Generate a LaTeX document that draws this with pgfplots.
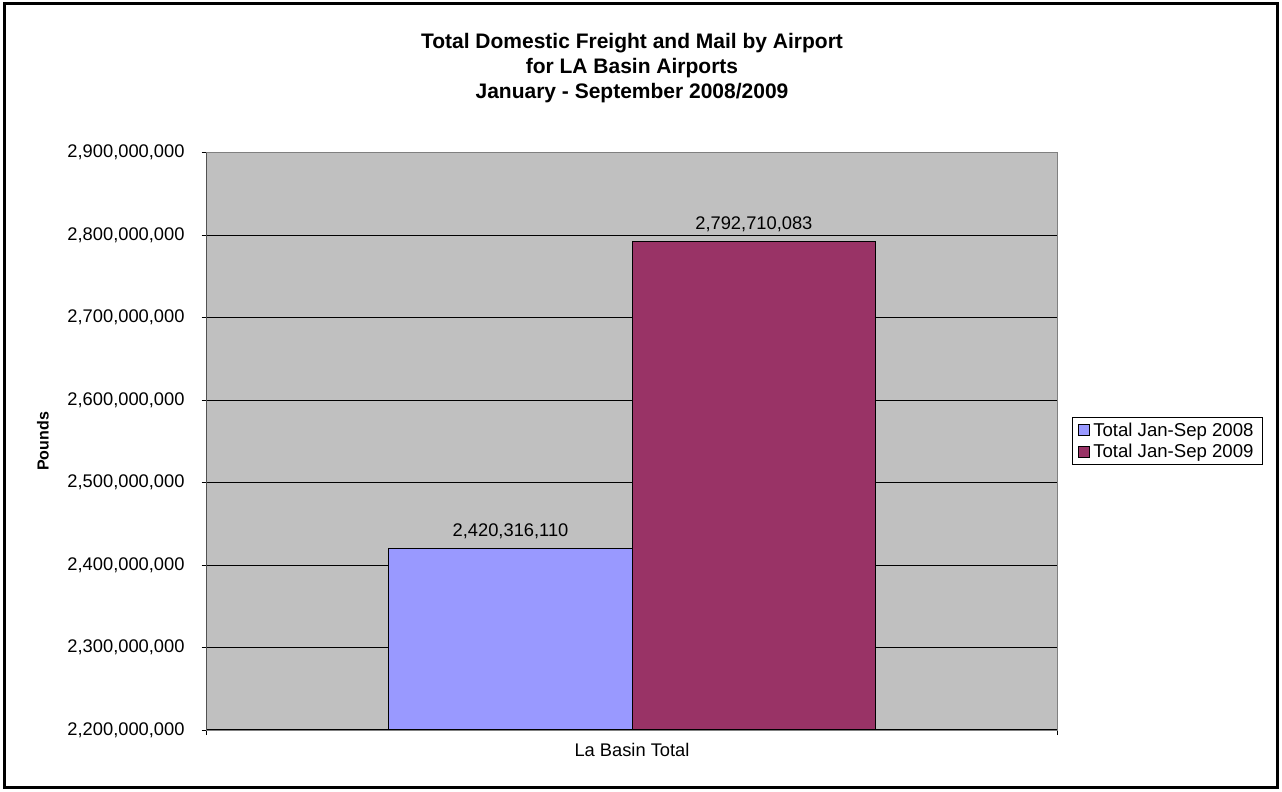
\documentclass[border=0pt]{standalone}
\usepackage{pgfplots}
\pgfplotsset{compat=1.18}
\usepackage{fontspec}
\setmainfont{Liberation Sans}
\definecolor{plotbg}{HTML}{C0C0C0}
\definecolor{bar08}{HTML}{9999FF}
\definecolor{bar09}{HTML}{993366}
\definecolor{bordergray}{HTML}{808080}
\newcommand{\tickfont}{\fontsize{18.3bp}{21bp}\selectfont}
\newcommand{\titlefont}{\fontsize{21bp}{25bp}\selectfont\bfseries}
\begin{document}
\begin{tikzpicture}
\path[use as bounding box] (0,0) rectangle (1282bp,792bp);
\begin{axis}[
  at={(206.7bp,62bp)}, anchor=south west,
  scale only axis, width=850.6bp, height=577.3bp,
  xmin=0, xmax=1, ymin=2200000000, ymax=2900000000,
  scaled y ticks=false,
  axis background/.style={fill=plotbg},
  axis line style={draw=bordergray, line width=0.9bp},
  ytick={2200000000,2300000000,2400000000,2500000000,2600000000,2700000000,2800000000,2900000000},
  yticklabels={{2,200,000,000},{2,300,000,000},{2,400,000,000},{2,500,000,000},{2,600,000,000},{2,700,000,000},{2,800,000,000},{2,900,000,000}},
  ymajorgrids, major grid style={draw=black, line width=0.9bp},
  xtick={0,1}, xticklabels={},
  extra x ticks={0.5}, extra x tick labels={La Basin Total},
  extra x tick style={major tick length=0pt, grid=none},
  tick align=outside, major tick length=5bp,
  tick style={draw=black, line width=0.9bp},
  ytick pos=left, xtick pos=bottom,
  ticklabel style={font=\tickfont},
  yticklabel style={anchor=east, inner sep=0pt, xshift=-17bp},
  xticklabel style={anchor=north, inner sep=0pt, yshift=-13bp},
  ylabel={Pounds},
  ylabel style={at={(axis description cs:-0.1925,0.5)}, anchor=center, rotate=0, font=\fontsize{16bp}{19bp}\selectfont\bfseries},
  ybar, bar width=243.3bp, bar shift=0pt,
  point meta=explicit symbolic,
  nodes near coords,
  nodes near coords style={font=\tickfont, anchor=south, inner sep=0pt, yshift=9bp, text=black},
  legend style={at={(axis description cs:1.0173,0.5006)}, anchor=west, draw=black, line width=0.9bp, fill=white,
     font=\fontsize{18.6bp}{21bp}\selectfont, inner xsep=5.5bp, inner ysep=1.5bp, row sep=0bp,
     nodes={inner xsep=3.5bp, inner ysep=3.4bp}},
  legend cell align=left,
  legend image code/.code={\draw[#1, draw=black, line width=0.8bp] (0bp,-5.5bp) rectangle (11bp,5.5bp);},
]
\addplot[fill=bar08, draw=black, line width=0.9bp] coordinates {(0.3572,2420316110) [2,420,316,110]};
\addlegendentry{Total Jan-Sep 2008}
\addplot[fill=bar09, draw=black, line width=0.9bp] coordinates {(0.6433,2792710083) [2,792,710,083]};
\addlegendentry{Total Jan-Sep 2009}
\draw[black, line width=1bp] (rel axis cs:0,1) -- (rel axis cs:0,0) -- (rel axis cs:1,0);
\end{axis}
\draw[black, line width=2.5bp] (4.5bp,4.5bp) rectangle (1277.5bp,788.5bp);
\node[font=\titlefont, anchor=base] at (632bp,743bp) {Total Domestic Freight and Mail by Airport};
\node[font=\titlefont, anchor=base] at (632bp,718bp) {for LA Basin Airports};
\node[font=\titlefont, anchor=base] at (632bp,693.5bp) {January - September 2008/2009};
\end{tikzpicture}
\end{document}
